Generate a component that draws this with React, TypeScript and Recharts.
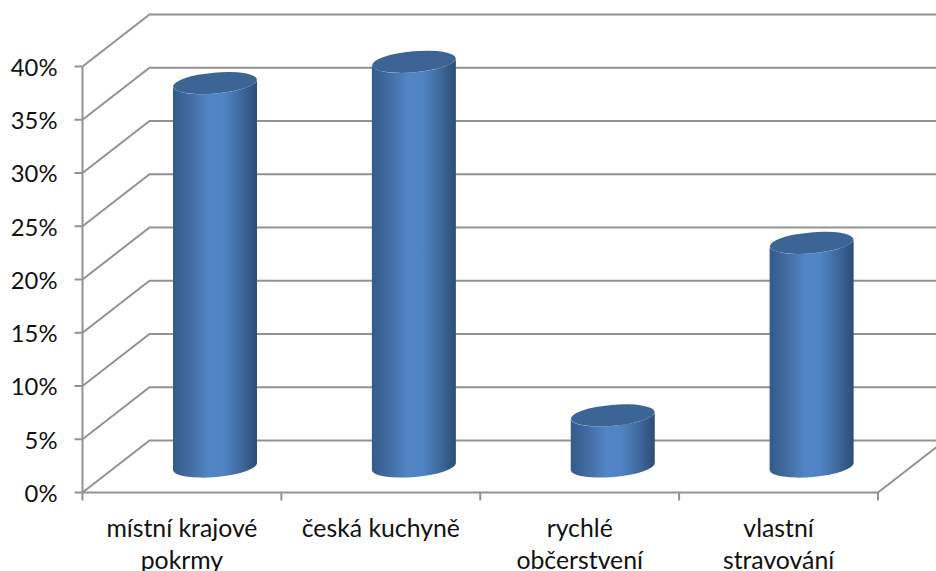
import { Bar, BarChart, CartesianGrid, XAxis, YAxis } from "recharts";

const categories = ["místní krajové\npokrmy", "česká kuchyně", "rychlé\nobčerstvení", "vlastní\nstravování"];
const shares = [36, 38, 4.8, 21];
const yTicks = [0, 5, 10, 15, 20, 25, 30, 35, 40];

const chartData = categories.map((name, i) => ({ name, share: shares[i] }));

const GREY = "#929292";
const LINE = 2;
const FONT = "Lato, Carlito, sans-serif";
const WIDTH = 936;
const HEIGHT = 571;
const BOTTOM = 78.5;

// depth of the fake 3D box
const WALL_DX = 67;
const WALL_DY = 52;
// bars stand half way into the box
const BAR_DX = 33.5;
const BAR_DY = -26;

const Cylinder = ({ x, y, width, height }: any) => {
  const cx = x + width / 2 + BAR_DX;
  const top = y + BAR_DY;
  const bottom = y + height + BAR_DY;
  const rx = width / 2;
  const ry = 10.5;
  const tilt = 3.8;
  const left = cx - rx;
  const right = cx + rx;
  return (
    <g>
      <path
        d={`M${left},${top + tilt} L${left},${bottom + tilt} A${rx},${ry} -5 0 0 ${right},${bottom - tilt} L${right},${top - tilt} A${rx},${ry} -5 0 1 ${left},${top + tilt} Z`}
        fill="url(#cylinderSide)"
      />
      <ellipse cx={cx} cy={top} rx={rx} ry={ry} transform={`rotate(-5 ${cx} ${top})`} fill="#3c6494" />
    </g>
  );
};

const WallLine = ({ x1, y1, x2 }: any) => {
  const floor = Math.abs(y1 - (HEIGHT - BOTTOM)) < 1;
  return (
    <g fill="none" stroke={GREY} strokeWidth={LINE}>
      <path d={`M${x1},${y1} L${x1 + WALL_DX},${y1 - WALL_DY} L${WIDTH},${y1 - WALL_DY}`} />
      {floor && <path d={`M${x2},${y1} L${x2 + WALL_DX},${y1 - WALL_DY}`} />}
    </g>
  );
};

const CategoryTick = ({ x, y, payload, index }: any) => {
  const half = payload.offset;
  return (
    <g>
      {index === 0 && <line x1={x - half} x2={x - half} y1={y} y2={y + 8} stroke={GREY} strokeWidth={LINE} />}
      <line x1={x + half} x2={x + half} y1={y} y2={y + 8} stroke={GREY} strokeWidth={LINE} />
      {String(payload.value)
        .split("\n")
        .map((line: string, i: number) => (
          <text key={line} x={x} y={y + 44.5 + i * 32} textAnchor="middle" fontSize={24.8} fontFamily={FONT} fill="#111">
            {line}
          </text>
        ))}
    </g>
  );
};

export default function App() {
  return (
    <div style={{ position: "absolute", left: 0, top: 0, width: WIDTH, height: HEIGHT, overflow: "hidden" }}>
      <BarChart
        width={WIDTH}
        height={HEIGHT}
        data={chartData}
        margin={{ top: 66.5, right: 58, left: 0, bottom: 0 }}
        barCategoryGap={0}
      >
        <defs>
          <linearGradient id="cylinderSide" x1="0" y1="0" x2="1" y2="0">
            <stop offset="0" stopColor="#335b8b" />
            <stop offset="0.22" stopColor="#436ea5" />
            <stop offset="0.42" stopColor="#5185c5" />
            <stop offset="0.6" stopColor="#5084c4" />
            <stop offset="0.8" stopColor="#406a9f" />
            <stop offset="1" stopColor="#2d4d77" />
          </linearGradient>
        </defs>
        <CartesianGrid vertical={false} horizontal={(props: any) => <WallLine {...props} />} />
        <XAxis
          dataKey="name"
          interval={0}
          height={BOTTOM}
          tickSize={0}
          tickMargin={0}
          tickLine={false}
          axisLine={{ stroke: GREY, strokeWidth: LINE }}
          tick={(props: any) => <CategoryTick {...props} />}
        />
        <YAxis
          width={82.5}
          domain={[0, 40]}
          ticks={yTicks}
          tickFormatter={(v: number) => `${v}%`}
          tickSize={8}
          tickMargin={17}
          axisLine={{ stroke: GREY, strokeWidth: LINE }}
          tickLine={{ stroke: GREY, strokeWidth: LINE }}
          tick={{ fontSize: 23.8, fontFamily: FONT, fill: "#111", dy: 1 }}
        />
        <Bar dataKey="share" barSize={84} isAnimationActive={false} shape={(props: any) => <Cylinder {...props} />} />
      </BarChart>
    </div>
  );
}
